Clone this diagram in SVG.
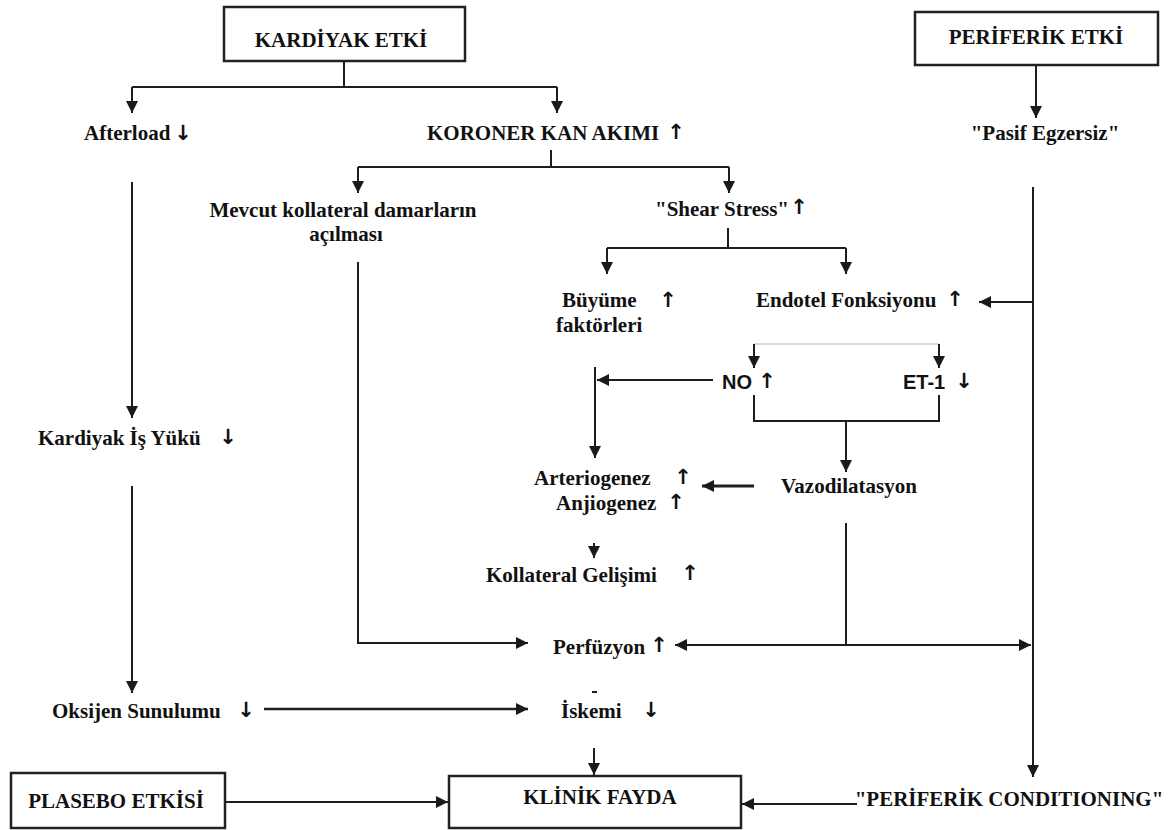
<svg xmlns="http://www.w3.org/2000/svg" width="1174" height="830" viewBox="0 0 1174 830">
<defs>
<marker id="ah" markerUnits="userSpaceOnUse" markerWidth="12" markerHeight="12" refX="12" refY="6" orient="auto-start-reverse" viewBox="0 0 12 12">
<path d="M0,0 L12,6 L0,12 z" fill="#1a1a1a"/>
</marker>
<style>
.t{font-family:"Liberation Serif","Times New Roman",serif;font-weight:bold;font-size:21px;fill:#111}
.s{font-family:"Liberation Sans",Arial,sans-serif;font-weight:bold;font-size:20px;fill:#111}
.ar{font-family:"DejaVu Sans",sans-serif;font-weight:bold;font-size:21px;fill:#111;text-anchor:middle}
.box{fill:#fff;stroke:#222;stroke-width:2.5}
.c{fill:none;stroke:#1e1e1e;stroke-width:2}
.a{marker-end:url(#ah)}
.f{fill:none;stroke:#ccc;stroke-width:1.5}
</style>
</defs>
<rect width="1174" height="830" fill="#fff"/>
<g id="connectors">
<path class="c" d="M344,61 V87 M132,87 H557"/>
<path class="c a" d="M132,87 V113"/>
<path class="c a" d="M557,87 V113"/>
<path class="c a" d="M132,182 V418"/>
<path class="c a" d="M132,486 V693"/>
<path class="c" d="M551,150 V167 M358,167 H729"/>
<path class="c a" d="M358,167 V193"/>
<path class="c a" d="M729,167 V193"/>
<path class="c a" d="M358,262 V643 H528"/>
<path class="c" d="M728,228 V248 M607,248 H846"/>
<path class="c a" d="M607,248 V274"/>
<path class="c a" d="M846,248 V274"/>
<path class="c a" d="M1036,65 V118"/>
<path class="c a" d="M1033,187 V777"/>
<path class="c a" d="M1033,302 H979"/>
<path class="f" d="M754,344 H939"/>
<path class="c a" d="M754,344 V368"/>
<path class="c a" d="M939,344 V368"/>
<path class="c a" d="M713,380 H597"/>
<path class="c a" d="M595,367 V458"/>
<path class="c" d="M754,395 V421 H939 V395"/>
<path class="c a" d="M846,421 V472"/>
<path class="c a" d="M754,486 H702" style="stroke-width:3"/>
<path class="c a" d="M594,543 V558"/>
<path class="c" d="M846,523 V645"/>
<path class="c a" d="M675,645 H1031" style="marker-start:url(#ah)"/>
<path class="c a" d="M264,709 H528" style="stroke-width:2.5"/>
<path class="c" d="M592,692 H597"/>
<path class="c a" d="M594,748 V775"/>
<path class="c a" d="M225,802 H448"/>
<path class="c a" d="M857,804 H742"/>
</g>
<g id="kardiyak-etki"><rect class="box" x="224" y="7" width="241" height="54"/><text class="t" x="341" y="47" text-anchor="middle">KARDİYAK ETKİ</text></g>
<g id="periferik-etki"><rect class="box" x="915" y="12" width="243" height="53"/><text class="t" x="1036" y="44" text-anchor="middle">PERİFERİK ETKİ</text></g>
<g id="afterload"><text class="t" x="84" y="140">Afterload</text><text class="ar" x="183" y="140">↓</text></g>
<g id="koroner"><text class="t" x="427" y="140">KORONER KAN AKIMI</text><text class="ar" x="676" y="139">↑</text></g>
<g id="pasif"><text class="t" x="1045" y="140" text-anchor="middle">"Pasif Egzersiz"</text></g>
<g id="mevcut"><text class="t" x="343" y="217" text-anchor="middle">Mevcut kollateral damarların</text><text class="t" x="346" y="241" text-anchor="middle">açılması</text></g>
<g id="shear"><text class="t" x="655" y="216">"Shear Stress"</text><text class="ar" x="799" y="214">↑</text></g>
<g id="buyume"><text class="t" x="562" y="307">Büyüme</text><text class="ar" x="668" y="307">↑</text><text class="t" x="556" y="332">faktörleri</text></g>
<g id="endotel"><text class="t" x="756" y="307">Endotel Fonksiyonu</text><text class="ar" x="955" y="306">↑</text></g>
<g id="no"><text class="s" x="722" y="389">NO</text><text class="ar" x="767" y="388">↑</text></g>
<g id="et1"><text class="s" x="903" y="389">ET-1</text><text class="ar" x="964" y="388">↓</text></g>
<g id="arterio"><text class="t" x="534" y="485">Arteriogenez</text><text class="ar" x="683" y="484">↑</text><text class="t" x="556" y="510">Anjiogenez</text><text class="ar" x="676" y="509">↑</text></g>
<g id="vazo"><text class="t" x="849" y="493" text-anchor="middle">Vazodilatasyon</text></g>
<g id="kollateral"><text class="t" x="486" y="582">Kollateral Gelişimi</text><text class="ar" x="690" y="580">↑</text></g>
<g id="perfuzyon"><text class="t" x="553" y="654">Perfüzyon</text><text class="ar" x="659" y="652">↑</text></g>
<g id="kardiyak-is"><text class="t" x="38" y="445">Kardiyak İş Yükü</text><text class="ar" x="228" y="444">↓</text></g>
<g id="oksijen"><text class="t" x="52" y="718">Oksijen Sunulumu</text><text class="ar" x="246" y="717">↓</text></g>
<g id="iskemi"><text class="t" x="561" y="718">İskemi</text><text class="ar" x="651" y="717">↓</text></g>
<g id="plasebo"><rect class="box" x="11" y="773" width="214" height="55"/><text class="t" x="116" y="808" text-anchor="middle">PLASEBO ETKİSİ</text></g>
<g id="klinik"><rect class="box" x="449" y="776" width="292" height="52"/><text class="t" x="600" y="804" text-anchor="middle">KLİNİK FAYDA</text></g>
<g id="periferik-cond"><text class="t" x="1009" y="806" text-anchor="middle">"PERİFERİK CONDITIONING"</text></g>
</svg>
